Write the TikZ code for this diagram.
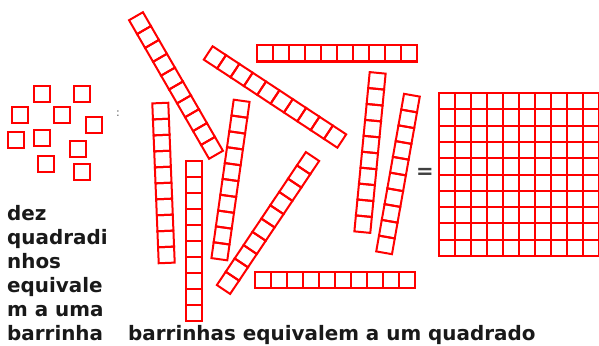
\documentclass[tikz,border=0pt]{standalone}
\usepackage{fontspec}
\setmainfont{DejaVu Sans}
\usepackage{tikz}
\usetikzlibrary{positioning}

% one bar of ten cells, centred at (#1,#2), turned by #3
\newcommand{\barrinha}[3]{%
  \begin{scope}[shift={(#1,#2)}, rotate=#3]
    \foreach \k in {0,...,9}
      \draw [cell] (-8,-80+16*\k) rectangle ++(16,16);
  \end{scope}}

\begin{document}
\begin{tikzpicture}[
    x=1pt, y=-1pt,
    cell/.style={draw=red, line width=2pt, fill=none},
    rotulo/.style={font=\fontsize{19.9}{24}\selectfont\bfseries, text=black!90, inner sep=0pt, anchor=base west},
    sinal/.style={font=\fontsize{21}{21}\selectfont\bfseries, text=black!75, inner sep=0pt}
]
    \useasboundingbox (0,0) rectangle (599,345);

    % Loose squares
    \foreach \x/\y in {41.5/93.5, 81.5/93.5, 20/115, 61.5/115, 93.5/125,
                       15.5/139.5, 41.5/137.5, 77.5/149, 45.5/163.5, 81.5/171.5}
      \draw [cell] (\x-8,\y-8) rectangle ++(16,16);
    \node [font=\fontsize{11}{11}\selectfont, text=black!65, inner sep=0pt] (pontos) at (118,114) {:};

    % Bars
    \barrinha{176}{85.5}{30}
    \barrinha{275}{97}{56.6}
    \barrinha{336.5}{53.5}{90}
    \barrinha{163.5}{183}{2.3}
    \barrinha{194}{240.5}{0}
    \barrinha{230.5}{180}{-8}
    \barrinha{268}{223}{-33.8}
    \barrinha{370}{152.5}{-5.5}
    \barrinha{398}{174}{-10}
    \barrinha{334.5}{280}{90}

    % Square of a hundred
    \node [sinal] (igual) at (425,173.5) {=};
    \foreach \i in {0,...,9}
      \foreach \j in {0,...,9}
        \draw [cell] (439+16*\i, 93+16.3*\j) rectangle ++(16,16.3);

    % Texts
    \foreach \t [count=\i] in {dez, quadradi, nhos, equivale, m a uma, barrinha}
      \node [rotulo] (linha\i) at (7, {220+24*(\i-1)}) {\t};
    \node [rotulo] (legenda) at (128,340) {barrinhas equivalem a um quadrado};
\end{tikzpicture}
\end{document}
